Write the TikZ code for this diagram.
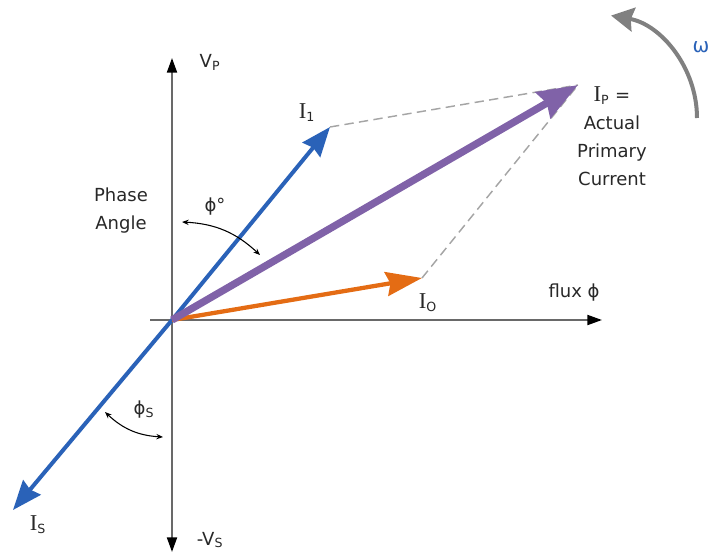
\documentclass[tikz,border=0pt]{standalone}
\usepackage{fontspec}
\setmainfont{DejaVu Sans}
\newfontfamily\serifI{Liberation Serif}
\usetikzlibrary{arrows.meta, positioning}
\definecolor{vblue}{RGB}{42,98,184}
\definecolor{vpurple}{RGB}{128,98,168}
\definecolor{vorange}{RGB}{228,108,20}
\definecolor{vaxis}{RGB}{105,105,105}
\definecolor{vdash}{RGB}{165,165,165}
\definecolor{vtext}{RGB}{40,40,40}
\newcommand{\cur}[1]{{\serifI\fontsize{17}{17}\selectfont I}\textsubscript{#1}}

\begin{document}
\begin{tikzpicture}[x=0.75pt,y=0.75pt,
    every node/.style={font=\fontsize{13.5}{21}\selectfont,text=vtext},
    axis/.style={draw=vaxis,line width=1.5pt,-{Triangle[length=11pt,width=7.5pt,black]}},
    vec/.style={line width=#1,-{Stealth[length=22pt,width=17pt,inset=2pt]}},
    proj/.style={draw=vdash,line width=1.1pt,dash pattern=on 7pt off 4pt},
    anglemark/.style={line width=0.8pt,{Stealth[length=5pt,width=4pt]}-{Stealth[length=5pt,width=4pt]}}]
    \useasboundingbox (-172,-238) rectangle (541,320);
    \coordinate (O) at (0,0);
    \coordinate (vtop) at (0,262);
    \coordinate (vbot) at (0,-232);
    \coordinate (hleft) at (-22,0);
    \coordinate (hright) at (430,0);
    \coordinate (i1) at (158,193);
    \coordinate (is) at (-159,-190);
    \coordinate (ip) at (406,235);
    \coordinate (i0) at (250,42);
    \draw[axis] (O) -- (vtop);
    \draw[axis] (O) -- (vbot);
    \draw[axis] (hleft) -- (hright);
    \draw[proj] (i1) -- (ip);
    \draw[proj] (i0) -- (ip);
    \draw[vec=3pt,vblue] (O) -- (i1);
    \draw[vec=3pt,vblue] (O) -- (is);
    \draw[vorange,line width=3.2pt,-{Stealth[length=27pt,width=18pt,inset=3pt]}] (O) -- (i0);
    \draw[vpurple,line width=5.5pt,-{Stealth[length=30pt,width=22pt,inset=3pt]}] (O) -- (ip);
    \coordinate (pa1) at (10,98);
    \coordinate (pa2) at (88,65);
    \draw[anglemark] (pa1) to[bend left=20] (pa2);
    \coordinate (ps1) at (-67,-92);
    \coordinate (ps2) at (-9,-117);
    \draw[anglemark] (ps1) to[bend right=20] (ps2);
    \coordinate (w1) at (525,202);
    \draw[draw=gray,line width=3pt,-{Stealth[length=17pt,width=18pt,inset=2pt]}] (w1) arc (0:80:104) coordinate (w2);
    \node (vp) at (38,258) {V\textsubscript{P}};
    \node (vs) at (38,-220) {-V\textsubscript{S}};
    \node (flux) at (402,27) {flux ϕ};
    \node (l1) at (135,207) {\cur{1}};
    \node (ls) at (-134,-205) {\cur{S}};
    \node (l0) at (256,17) {\cur{O}};
    \node[align=center] (lp) at (440,184) {\cur{P} =\\Actual\\Primary\\Current};
    \node[align=center] (phase) at (-51,109) {Phase\\Angle};
    \node (phi) at (43,113) {ϕ°};
    \node (phis) at (-28,-90) {ϕ\textsubscript{S}};
    \node[text=vblue,font=\fontsize{15}{15}\selectfont,inner sep=1pt] (omega) at (529,273) {ω};
\end{tikzpicture}
\end{document}
